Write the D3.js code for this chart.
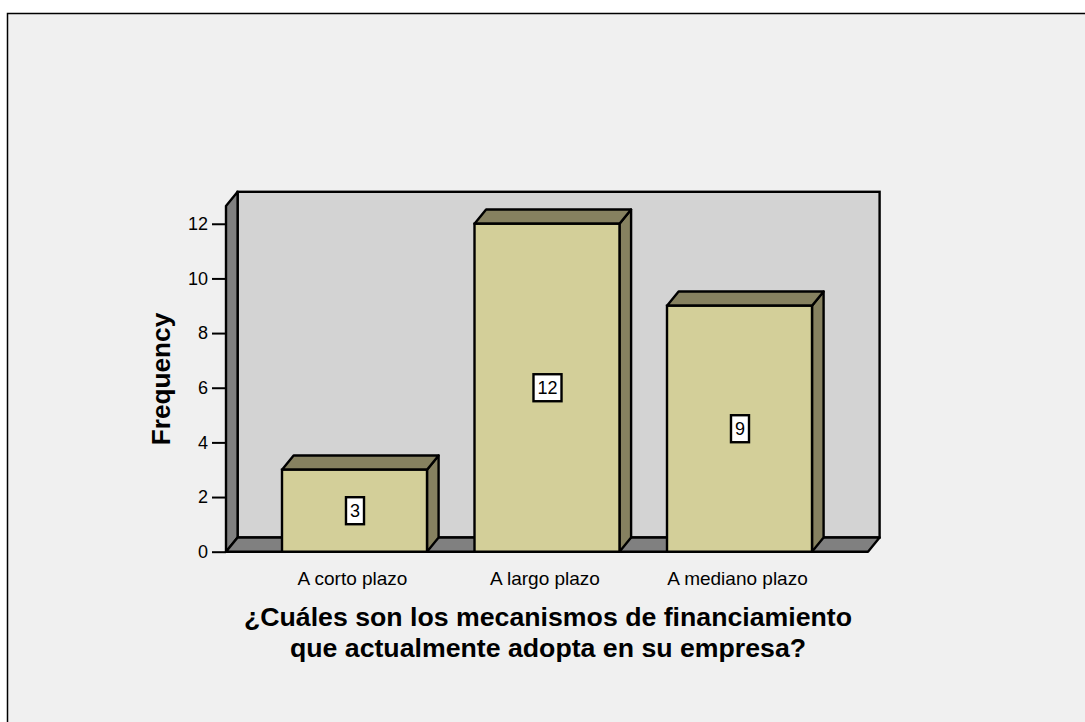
<!DOCTYPE html>
<html>
<head>
<meta charset="utf-8">
<script src="https://cdn.jsdelivr.net/npm/d3@7"></script>
<style>
  html, body { margin: 0; padding: 0; background: #ffffff; }
  svg { display: block; }
  text { font-family: "Liberation Sans", Arial, sans-serif; fill: #000; }
</style>
</head>
<body>
<svg id="chart" width="1085" height="722"></svg>
<script>
// Frequencies of financing mechanisms
const categories = ["A corto plazo", "A largo plazo", "A mediano plazo"];
const frequencies = [3, 12, 9];
const yTicks = [0, 2, 4, 6, 8, 10, 12];
const yLabel = "Frequency";
const xTitleLines = ["¿Cuáles son los mecanismos de financiamiento", "que actualmente adopta en su empresa?"];

const svg = d3.select("#chart");
const W = 1085, H = 722;

// Panel frame
svg.append("rect")
  .attr("x", 7.5).attr("y", 13.5)
  .attr("width", W + 20).attr("height", H + 20)
  .attr("fill", "#f0f0f0").attr("stroke", "#000").attr("stroke-width", 1.5);

// 3D geometry
const depthX = 11.6, depthY = 14.2;
const left = 226, right = 868;
const y = d3.scaleLinear().domain([0, 12.65]).range([551.7, 206]);
const x = d3.scaleBand().domain(categories)
  .range([258.25, 835.75]).paddingInner(0.2468).paddingOuter(0.1234);

const wallStroke = "#000", sw = 2.4;
const g = svg.append("g");

// Back wall
g.append("rect")
  .attr("x", left + depthX).attr("y", y(y.domain()[1]) - depthY)
  .attr("width", right - left).attr("height", y(0) - y(y.domain()[1]))
  .attr("fill", "#d3d3d3").attr("stroke", wallStroke).attr("stroke-width", sw)
  .attr("stroke-linejoin", "miter");

const poly = pts => "M" + pts.map(p => p.join(",")).join("L") + "Z";

// Left side wall
g.append("path")
  .attr("d", poly([[left, y(0)], [left, y(y.domain()[1])],
                   [left + depthX, y(y.domain()[1]) - depthY], [left + depthX, y(0) - depthY]]))
  .attr("fill", "#808080").attr("stroke", wallStroke).attr("stroke-width", sw)
  .attr("stroke-linejoin", "round");

// Floor
g.append("path")
  .attr("d", poly([[left, y(0)], [left + depthX, y(0) - depthY],
                   [right + depthX, y(0) - depthY], [right, y(0)]]))
  .attr("fill", "#808080").attr("stroke", wallStroke).attr("stroke-width", sw)
  .attr("stroke-linejoin", "round");

// Bars
const frontFill = "#d3cf99", shadeFill = "#868160";
const data = categories.map((c, i) => ({ c, v: frequencies[i] }));
const bars = g.selectAll("g.bar").data(data).join("g").attr("class", "bar");

bars.append("path") // side face
  .attr("d", d => {
    const x1 = x(d.c) + x.bandwidth();
    return poly([[x1, y(0)], [x1, y(d.v)], [x1 + depthX, y(d.v) - depthY], [x1 + depthX, y(0) - depthY]]);
  })
  .attr("fill", shadeFill).attr("stroke", "#000").attr("stroke-width", sw).attr("stroke-linejoin", "round");

bars.append("path") // top face
  .attr("d", d => {
    const x0 = x(d.c), x1 = x0 + x.bandwidth();
    return poly([[x0, y(d.v)], [x0 + depthX, y(d.v) - depthY], [x1 + depthX, y(d.v) - depthY], [x1, y(d.v)]]);
  })
  .attr("fill", shadeFill).attr("stroke", "#000").attr("stroke-width", sw).attr("stroke-linejoin", "round");

bars.append("rect") // front face
  .attr("x", d => x(d.c)).attr("y", d => y(d.v))
  .attr("width", x.bandwidth()).attr("height", d => y(0) - y(d.v))
  .attr("fill", frontFill).attr("stroke", "#000").attr("stroke-width", sw);

// Value labels in boxes at bar mid-height
bars.each(function (d) {
  const gb = d3.select(this);
  const cx = x(d.c) + x.bandwidth() / 2 + 0.5;
  const cy = y(d.v / 2);
  const t = gb.append("text")
    .attr("x", cx).attr("y", cy)
    .attr("text-anchor", "middle").attr("dominant-baseline", "central")
    .style("font-size", "18px").text(d.v);
  const w = t.node().getComputedTextLength();
  gb.insert("rect", "text")
    .attr("x", cx - w / 2 - 4).attr("y", cy - 13.5)
    .attr("width", w + 8).attr("height", 27)
    .attr("fill", "#fff").attr("stroke", "#000").attr("stroke-width", 2.4);
});

// Y axis
const yAxis = d3.axisLeft(y).tickValues(yTicks).tickSize(14).tickPadding(4).tickFormat(d3.format("d"));
const ya = svg.append("g").attr("transform", `translate(${left},0)`).call(yAxis);
ya.select(".domain").remove();
ya.selectAll(".tick line").attr("stroke", "#000").attr("stroke-width", 2);
ya.selectAll(".tick text").style("font-size", "18px").attr("font-family", null).attr("fill", "#000");

// Category labels
svg.append("g").selectAll("text").data(categories).join("text")
  .attr("x", d => x(d) + x.bandwidth() / 2 - 2)
  .attr("y", 585)
  .attr("text-anchor", "middle")
  .style("font-size", "19px")
  .text(d => d);

// Axis titles
svg.append("text")
  .attr("transform", "translate(170,379) rotate(-90)")
  .attr("text-anchor", "middle")
  .style("font-size", "26.2px").style("font-weight", "bold")
  .text(yLabel);

svg.append("g").selectAll("text").data(xTitleLines).join("text")
  .attr("x", 548)
  .attr("y", (d, i) => 626 + i * 31)
  .attr("text-anchor", "middle")
  .style("font-size", "26.7px").style("font-weight", "bold")
  .text(d => d);
</script>
</body>
</html>
